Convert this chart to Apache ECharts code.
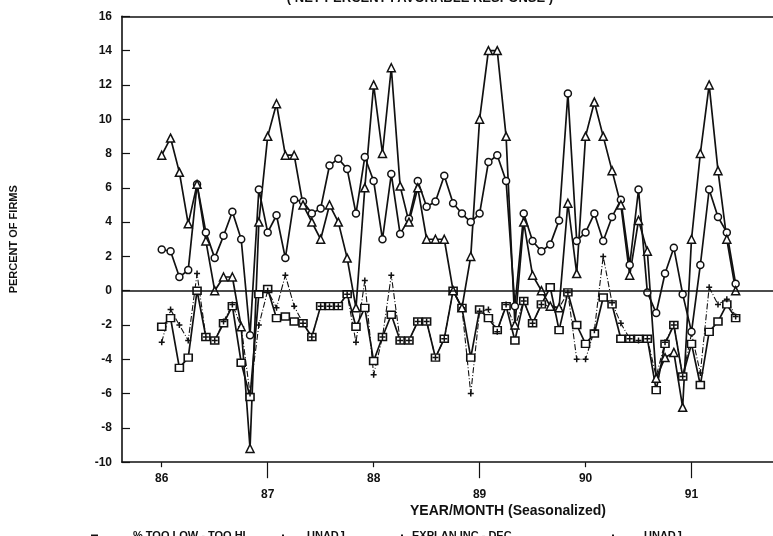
<!DOCTYPE html>
<html><head><meta charset="utf-8">
<script src="https://cdn.jsdelivr.net/npm/echarts@6/dist/echarts.min.js"></script>
<style>html,body{margin:0;padding:0;background:#fff}#c{width:773px;height:536px}</style>
</head><body><div id="c"></div>
<script>
// ---- data (monthly, Jan 1986 .. Jun 1991) ----
const YEAR_TICKS = [0, 12, 24, 36, 48, 60];
const YEAR_LABELS = ['86', '87', '88', '89', '90', '91'];

const TOO_LOW_TOO_HI = [
 -2.1, -1.6, -4.5, -3.9, 0.0, -2.7, -2.9, -1.9, -0.9, -4.2,
 -6.2, -0.2, 0.1, -1.6, -1.5, -1.8, -1.9, -2.7, -0.9, -0.9,
 -0.9, -0.2, -2.1, -1.0, -4.1, -2.7, -1.4, -2.9, -2.9, -1.8,
 -1.8, -3.9, -2.8, 0.0, -1.0, -3.9, -1.1, -1.6, -2.3, -0.9,
 -2.9, -0.6, -1.9, -0.8, 0.2, -2.3, -0.1, -2.0, -3.1, -2.5,
 -0.4, -0.8, -2.8, -2.8, -2.8, -2.8, -5.8, -3.1, -2.0, -5.0,
 -3.1, -5.5, -2.4, -1.8, -0.8, -1.6];
const TOO_LOW_UNADJ = [
 -3.0, -1.1, -2.0, -2.9, 1.0, -2.7, -2.9, -1.8, -0.8, -2.1,
 -6.0, -2.0, 0.0, -1.0, 0.9, -0.9, -1.9, -2.7, -0.9, -0.9,
 -0.9, -0.2, -3.0, 0.6, -4.9, -2.7, 0.9, -2.9, -2.9, -1.8,
 -1.8, -3.9, -2.8, 0.0, -1.0, -6.0, -1.2, -1.1, -2.4, -0.8,
 -2.1, -0.6, -1.9, -0.8, -0.9, -1.0, -0.1, -4.0, -4.0, -2.3,
 2.0, -0.7, -1.9, -2.8, -2.9, -2.8, -5.0, -3.0, -2.0, -5.0,
 -2.5, -4.8, 0.2, -0.8, -0.5, -1.5];
const EXPLAN_INC_DEC = [
 2.4, 2.3, 0.8, 1.2, 6.2, 3.4, 1.9, 3.2, 4.6, 3.0,
 -2.6, 5.9, 3.4, 4.4, 1.9, 5.3, 5.2, 4.5, 4.8, 7.3,
 7.7, 7.1, 4.5, 7.8, 6.4, 3.0, 6.8, 3.3, 4.2, 6.4,
 4.9, 5.2, 6.7, 5.1, 4.5, 4.0, 4.5, 7.5, 7.9, 6.4,
 -0.9, 4.5, 2.9, 2.3, 2.7, 4.1, 11.5, 2.9, 3.4, 4.5,
 2.9, 4.3, 5.3, 1.5, 5.9, -0.1, -1.3, 1.0, 2.5, -0.2,
 -2.4, 1.5, 5.9, 4.3, 3.4, 0.4];
const EXPLAN_UNADJ = [
 7.9, 8.9, 6.9, 3.9, 6.2, 2.9, 0.0, 0.8, 0.8, -2.1,
 -9.2, 4.0, 9.0, 10.9, 7.9, 7.9, 5.0, 4.0, 3.0, 5.0,
 4.0, 1.9, -1.0, 6.0, 12.0, 8.0, 13.0, 6.1, 4.0, 6.0,
 3.0, 3.0, 3.0, 0.0, -1.0, 2.0, 10.0, 14.0, 14.0, 9.0,
 -2.0, 4.0, 0.9, 0.0, -0.9, -1.0, 5.1, 1.0, 9.0, 11.0,
 9.0, 7.0, 5.0, 0.9, 4.1, 2.3, -5.1, -3.9, -3.6, -6.8,
 3.0, 8.0, 12.0, 7.0, 3.0, 0.0];

const LEGEND_LABELS = ['% TOO LOW - TOO HI', 'UNADJ', 'EXPLAN INC - DEC', 'UNADJ'];

// ---- chart ----
const FONT = '"Liberation Sans", Arial, sans-serif';
const BLACK = '#111';
const chart = echarts.init(document.getElementById('c'), null, {renderer: 'canvas', width: 773, height: 536});
const toXY = arr => arr.map((v, i) => [i, v]);
const X_MIN = -4.5, X_MAX = 69.23;
const labelStyle = {fontFamily: FONT, fontSize: 12, fontWeight: 'bold', color: BLACK};
const lowTicks = YEAR_TICKS.filter((v, k) => k % 2 === 0);
const highTicks = YEAR_TICKS.filter((v, k) => k % 2 === 1);
const yearFmt = v => YEAR_LABELS[YEAR_TICKS.indexOf(Math.round(v))] || '';

const crossPath = 'path://M5,0L5,10M0,5L10,5';

function lineSeries(name, data, symbol, size, lineType, extra) {
  return Object.assign({
    name: name, type: 'line', data: toXY(data),
    xAxisIndex: 0, yAxisIndex: 0,
    symbol: symbol, symbolSize: size, showSymbol: true,
    lineStyle: {color: BLACK, width: 1.7, type: lineType},
    itemStyle: {color: '#fff', borderColor: BLACK, borderWidth: 1.5},
    emphasis: {disabled: true}, z: 3
  }, extra || {});
}

const option = {
  animation: false,
  backgroundColor: '#fff',
  grid: {left: 122, right: 0, top: 16.3, bottom: 73.8, containLabel: false},
  xAxis: [
    {type: 'value', min: X_MIN, max: X_MAX, position: 'bottom', splitLine: {show: false},
     axisLine: {show: true, onZero: false, lineStyle: {color: BLACK, width: 1.6}},
     axisTick: {show: true, customValues: lowTicks, length: 5, lineStyle: {color: BLACK, width: 1.2}},
     axisLabel: Object.assign({show: true, customValues: lowTicks, formatter: yearFmt, margin: 10}, labelStyle)},
    {type: 'value', min: X_MIN, max: X_MAX, position: 'bottom', splitLine: {show: false},
     axisLine: {show: false, onZero: false},
     axisTick: {show: true, customValues: highTicks, length: 16, lineStyle: {color: BLACK, width: 1.2}},
     axisLabel: Object.assign({show: true, customValues: highTicks, formatter: yearFmt, margin: 26}, labelStyle)},
    {type: 'value', min: X_MIN, max: X_MAX, position: 'top', splitLine: {show: false},
     axisLine: {show: true, onZero: false, lineStyle: {color: BLACK, width: 1.6}},
     axisTick: {show: false}, axisLabel: {show: false}}
  ],
  yAxis: {
    type: 'value', min: -10, max: 16, interval: 2,
    splitLine: {show: false},
    axisLine: {show: true, onZero: false, lineStyle: {color: BLACK, width: 1.6}},
    axisTick: {show: true, inside: true, length: 8, lineStyle: {color: BLACK, width: 1.2}},
    axisLabel: Object.assign({margin: 10}, labelStyle),
    name: 'PERCENT OF FIRMS', nameLocation: 'middle', nameGap: 103, nameRotate: 90,
    nameTextStyle: {fontFamily: FONT, fontSize: 11, fontWeight: 'bold', color: BLACK}
  },
  legend: [
    {left: 86, item: 0, iw: 7, pad: 30},
    {left: 277, item: 1, iw: 2, pad: 18},
    {left: 396, item: 2, iw: 2, pad: 4},
    {left: 607, item: 3, iw: 2, pad: 25}
  ].map(l => ({
    data: [['% TOO LOW - TOO HI', 'UNADJ', 'EXPLAN INC - DEC', 'UNADJ '][l.item]],
    left: l.left, top: 525, icon: 'rect', itemWidth: l.iw, itemHeight: 2,
    itemStyle: {color: BLACK, borderWidth: 0}, selectedMode: false,
    formatter: () => LEGEND_LABELS[l.item],
    textStyle: {fontFamily: FONT, fontSize: 11, fontWeight: 'bold', color: BLACK, padding: [0, 0, 0, l.pad]}
  })),
  graphic: [
    {type: 'text', silent: true, style: {text: '( NET PERCENT FAVORABLE RESPONSE )', x: 420, y: -8,
      textAlign: 'center', textVerticalAlign: 'top', font: 'bold 13px ' + FONT, fill: BLACK}},
    {type: 'text', silent: true, style: {text: 'YEAR/MONTH (Seasonalized)', x: 508, y: 511,
      textAlign: 'center', textVerticalAlign: 'middle', font: 'bold 14px ' + FONT, fill: BLACK}}
  ],
  series: [
    lineSeries('% TOO LOW - TOO HI', TOO_LOW_TOO_HI, 'rect', [8, 7], 'solid', {
      markLine: {silent: true, symbol: 'none', label: {show: false},
        lineStyle: {color: BLACK, width: 1.6, type: 'solid'}, data: [{yAxis: 0}]}
    }),
    lineSeries('UNADJ', TOO_LOW_UNADJ, crossPath, 6, [6, 2, 1, 2], {
      lineStyle: {color: BLACK, width: 1.1, type: [6, 2, 1, 2]},
      itemStyle: {color: BLACK, borderColor: BLACK, borderWidth: 1.5}
    }),
    lineSeries('EXPLAN INC - DEC', EXPLAN_INC_DEC, 'circle', 7, 'solid'),
    lineSeries('UNADJ ', EXPLAN_UNADJ, 'triangle', 8, 'solid')
  ]
};
chart.setOption(option);
</script>
</body></html>
